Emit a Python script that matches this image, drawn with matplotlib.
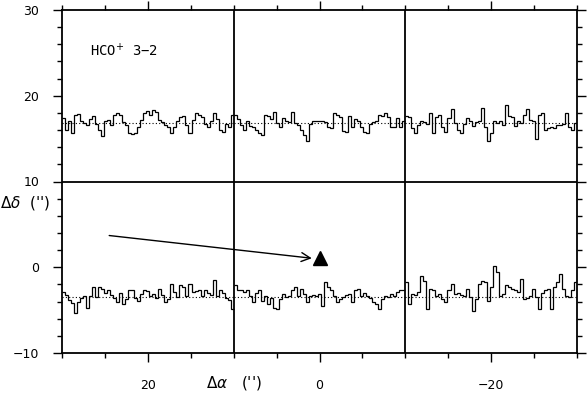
import numpy as np
import matplotlib.pyplot as plt

# map grid: panel centres in RA offset, baselines of the two rows (arcsec)
X_CENTERS = [20, 0, -20]
ROW_BASE = [16.8, -3.5]
PANEL_W = 20

# spectra as deviation from the panel baseline
SPEC_TL = [0.6, -0.8, 0.2, -1.1, 1.0, 1.1, 0.3, 0.0, -0.2, 0.5, 0.8, -0.1, -0.8, -1.5,
           0.2, 0.4, -0.2, 0.9, 1.2, 1.0, 0.1, -0.2, -1.2, -1.3, -1.1, -0.4, 0.4, 1.2,
           1.4, 0.9, 1.5, 1.3, 0.4, 0.1, -0.2, -0.5, -1.2, -0.4, 0.2, 0.7, 0.8, -0.2,
           -1.1, 0.4, 1.2, 1.0, 0.7, -0.1, -0.4, 0.2, 1.2, 0.5, -0.8, -1.0, -0.1, -0.4, 0.9]
SPEC_TM = [0.9, 0.5, -0.2, -0.8, 0.3, -0.3, -0.5, -0.8, -1.2, -1.4, 1.0, 0.8, 0.5, 1.3,
           0.0, -0.4, 0.6, 0.2, 0.1, 1.3, 0.0, -0.2, -0.8, -1.4, -2.1, -0.1, 0.2, 0.3,
           0.2, 0.2, 0.1, -0.5, -0.6, 1.2, 0.9, 0.7, -0.9, -1.0, 0.8, -0.4, 0.5, 0.3,
           -0.4, -1.0, -1.2, -0.1, 0.1, 0.2, 0.9, 0.8, 1.2, 0.7, -0.4, -0.5, 0.6, -0.4, 0.2]
SPEC_TR = [0.8, 0.7, -0.6, -1.1, -0.2, 0.2, 0.1, -0.1, 1.2, -1.2, 0.7, 1.0, -0.4, -1.0,
           0.6, 1.6, 0.0, -0.8, -1.2, -0.1, 0.6, 0.2, -0.3, 0.1, 0.2, 1.8, -0.4, -2.1,
           -1.2, 0.2, 0.0, 0.2, -0.2, 2.1, 0.8, 0.7, -0.3, 0.3, 0.0, 1.0, 1.6, 0.4,
           0.2, -1.9, 1.0, 1.2, -0.8, -0.6, -0.4, -0.6, -0.2, -0.2, -0.1, 1.2, -0.4, -0.8, 0.0]
SPEC_BL = [0.6, 0.3, -0.3, -0.7, -1.8, -0.6, -0.1, 0.2, -1.2, 0.2, 1.2, 0.0, 1.2, 1.0,
           0.5, 0.8, 0.3, -0.1, -0.6, 0.5, -0.8, -0.2, 0.8, 0.9, -0.1, -0.4, 0.4, 0.8,
           0.7, 0.2, 0.4, -0.1, 1.0, 0.3, -0.6, -0.2, 1.6, 0.6, 0.0, 1.4, 1.2, 0.2,
           1.6, 0.6, 0.7, 0.8, 0.2, 0.8, 0.5, 0.3, 2.0, 0.2, 0.8, 0.5, -0.1, -0.3, -1.4]
SPEC_BM = [1.4, 0.9, 0.8, 0.6, 0.8, 0.1, -0.5, 0.5, 0.8, -0.4, 0.2, -0.8, -0.1, -1.2,
           -1.4, -0.2, 0.4, 0.0, 0.1, 0.8, 1.2, 0.2, 1.0, 0.4, -0.6, 0.2, 0.3, 0.2,
           0.4, -1.0, 1.8, 1.2, 0.8, 0.1, -0.6, -0.2, 0.0, 0.3, 0.4, -0.6, 0.8, 1.0,
           0.2, 0.5, 0.2, -0.1, -0.6, -0.8, -1.4, -0.2, 0.1, 0.0, 0.4, 0.2, 0.6, 0.8, 0.9]
SPEC_BR = [1.8, -0.8, 0.4, 0.3, 0.6, 2.5, 1.9, -1.4, 1.0, 0.8, 0.2, 0.4, -0.2, -0.5,
           0.8, 1.6, 0.4, 0.5, 0.3, 0.2, 1.0, 0.0, -1.6, -0.2, 1.6, 1.9, 1.8, -0.4,
           1.2, 3.6, 2.9, 0.2, 0.4, 1.4, 1.2, 1.0, 0.8, 0.6, 2.1, -0.2, -0.1, 0.2,
           1.0, 0.0, -1.4, 0.5, 0.8, 1.0, -1.4, 1.2, 1.8, 2.7, 1.0, 0.2, 0.0, 0.8, 1.8]
SPECTRA = [[SPEC_TL, SPEC_TM, SPEC_TR], [SPEC_BL, SPEC_BM, SPEC_BR]]

LINE_LABEL = "HCO$^{+}$ 3\u22122"
ARROW_FROM = (24.5, 3.7)
ARROW_TO = (0.9, 1.05)
SOURCE_POS = (0.0, 1.1)

plt.rcParams['font.family'] = 'DejaVu Sans'
plt.rcParams['font.size'] = 9

fig = plt.figure(figsize=(5.88, 3.96), dpi=100)
ax = fig.add_axes([62 / 588, 43 / 396, 515 / 588, 343 / 396])

for row, base in enumerate(ROW_BASE):
    for col, xc in enumerate(X_CENTERS):
        vals = np.array(SPECTRA[row][col]) + base
        edges = np.linspace(xc + PANEL_W / 2, xc - PANEL_W / 2, len(vals) + 1)
        ax.stairs(vals, edges, baseline=None, color='black', lw=0.9)
        ax.plot([edges[0], edges[-1]], [base, base], color='black', lw=0.8, ls=(0, (1, 2)))

# panel dividers
for xd in [10, -10]:
    ax.axvline(xd, color='black', lw=1.3)
ax.axhline(10, color='black', lw=1.3)

ax.annotate('', xy=ARROW_TO, xytext=ARROW_FROM,
            arrowprops=dict(arrowstyle='->', color='black', lw=1.0, mutation_scale=16,
                            shrinkA=0, shrinkB=0))
ax.plot(*SOURCE_POS, marker='^', color='black', markersize=9.5, ls='none')

ax.text(26.7, 25.3, LINE_LABEL, family='DejaVu Sans Mono', fontsize=10, va='center', ha='left')

ax.set_xlim(30, -30)
ax.set_ylim(-10, 30)
ax.set_xticks([20, 0, -20])
ax.set_xticks(np.arange(-30, 31, 5), minor=True)
ax.set_yticks([-10, 0, 10, 20, 30])
ax.set_yticks(np.arange(-10, 31, 2), minor=True)
ax.tick_params(which='both', direction='out', top=True, right=True, width=1.0, color='black')
ax.tick_params(which='major', length=6.5)
ax.tick_params(which='minor', length=3.5)
ax.tick_params(axis='x', which='major', pad=12)
ax.tick_params(axis='y', which='major', pad=10)
for s in ax.spines.values():
    s.set_linewidth(1.3)

ax.text(0.333, -0.088, r"$\Delta\alpha$   ('')", transform=ax.transAxes, ha='center', va='center',
        fontsize=11)
fig.text(0.0, 1 - 203 / 396, r"$\Delta\delta$  ('')", ha='left', va='center', fontsize=11)

fig.savefig('out.png', dpi=100)
